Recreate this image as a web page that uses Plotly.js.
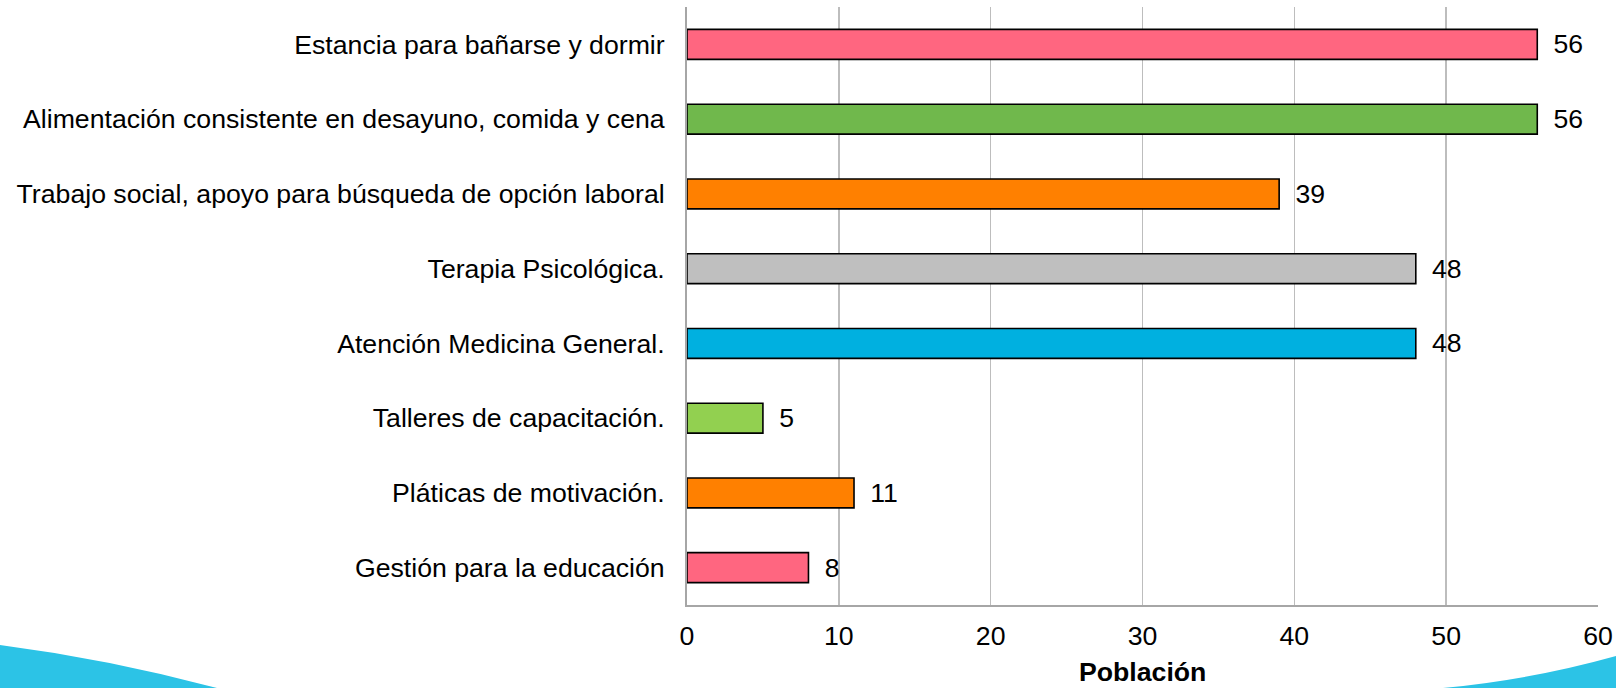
<!DOCTYPE html>
<html>
<head>
<meta charset="utf-8">
<script src="https://cdn.plot.ly/plotly-3.0.1.min.js"></script>
<style>
  html, body { margin: 0; padding: 0; background: #ffffff; }
  #chart { width: 1616px; height: 688px; }
</style>
</head>
<body>
<div id="chart"></div>
<script>
// Categories listed top to bottom as they appear in the chart
const categories = [
  "Estancia para bañarse y dormir",
  "Alimentación consistente en desayuno, comida y cena",
  "Trabajo social, apoyo para búsqueda de opción laboral",
  "Terapia Psicológica.",
  "Atención Medicina General.",
  "Talleres de capacitación.",
  "Pláticas de motivación.",
  "Gestión para la educación"
];
const values = [56, 56, 39, 48, 48, 5, 11, 8];
const barColors = ["#FF6680", "#70B84C", "#FF8000", "#BFBFBF", "#00B0E0", "#92D050", "#FF8000", "#FF6680"];
const xTickValues = [0, 10, 20, 30, 40, 50, 60];
const xAxisTitle = "Población";

const FONT = "Liberation Sans, Arial, sans-serif";
const FS = 26.67;

// plot area geometry (pixels) used for decorative swoosh in paper coords
const L = 687, R = 1598, T = 7, B = 605;
const W = 1616, H = 688;
const px = x => (x - L) / (R - L);
const py = y => (B - y) / (B - T);

const leftSwoosh = `M ${px(0)},${py(645)} Q ${px(108)},${py(659)} ${px(217)},${py(688)} L ${px(0)},${py(688)} Z`;
const rightSwoosh = `M ${px(1443)},${py(688)} Q ${px(1530)},${py(680)} ${px(1616)},${py(656)} L ${px(1616)},${py(688)} Z`;

const trace = {
  type: "bar",
  orientation: "h",
  y: categories,
  x: values,
  marker: { color: barColors, line: { color: "#000000", width: 1.6 } },
  width: 0.4,
  text: values.map(v => "\u2002" + v),
  textposition: "outside",
  textfont: { family: FONT, size: FS, color: "#000000" },
  cliponaxis: false,
  hoverinfo: "skip"
};

const layout = {
  width: W,
  height: H,
  margin: { l: L, r: W - R, t: T, b: H - B, pad: 0 },
  paper_bgcolor: "#ffffff",
  plot_bgcolor: "#ffffff",
  showlegend: false,
  font: { family: FONT, size: FS, color: "#000000" },
  xaxis: {
    range: [0, 60],
    tickvals: xTickValues,
    ticktext: xTickValues.map(String),
    showgrid: true,
    gridcolor: "#BDBDBD",
    gridwidth: 1.5,
    zeroline: false,
    showline: true,
    linecolor: "#A6A6A6",
    linewidth: 2,
    ticks: "",
    ticklabelstandoff: 6,
    tickfont: { family: FONT, size: FS, color: "#000000" },
    automargin: false,
    fixedrange: true
  },
  yaxis: {
    type: "category",
    autorange: "reversed",
    showgrid: false,
    zeroline: false,
    showline: true,
    linecolor: "#A6A6A6",
    linewidth: 2,
    ticks: "",
    ticklabelstandoff: 15,
    tickfont: { family: FONT, size: FS, color: "#000000" },
    automargin: false,
    fixedrange: true
  },
  annotations: [
    {
      text: "<b>" + xAxisTitle + "</b>",
      xref: "paper", yref: "paper",
      x: 0.5, y: py(688),
      xanchor: "center", yanchor: "bottom",
      showarrow: false,
      borderpad: 0,
      font: { family: FONT, size: FS, color: "#000000" }
    }
  ],
  shapes: [
    { type: "path", xref: "paper", yref: "paper", path: leftSwoosh, fillcolor: "#2CC3E6", line: { width: 0 }, layer: "below" },
    { type: "path", xref: "paper", yref: "paper", path: rightSwoosh, fillcolor: "#2CC3E6", line: { width: 0 }, layer: "below" }
  ]
};

Plotly.newPlot("chart", [trace], layout, { staticPlot: true, displayModeBar: false });
</script>
</body>
</html>
